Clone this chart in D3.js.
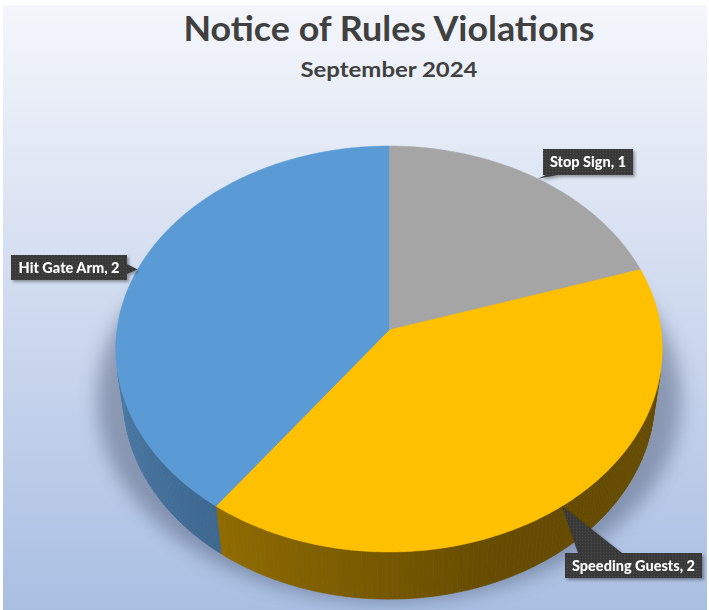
<!DOCTYPE html>
<html>
<head>
<meta charset="utf-8">
<script src="https://cdn.jsdelivr.net/npm/d3@7"></script>
<style>
  html, body { margin: 0; padding: 0; background: #ffffff; }
  svg { display: block; }
</style>
</head>
<body>
<div id="chart"></div>
<script>
// chart data
const categories = ["Stop Sign", "Speeding Guests", "Hit Gate Arm"];
const values = [1, 2, 2];
const title = "Notice of Rules Violations";
const subtitle = "September 2024";

// styles
const topColors = ["#a5a5a5", "#ffc000", "#5b9bd5"];
const sideDark = ["#5a5a5a", "#664c00", "#2d5074"];
const sideLight = ["#8a8a8a", "#b08400", "#4b7aa5"];

// label box layout (Excel data callouts, manually placed)
const labelBoxes = [
    { x: 543, y: 149, w: 90, h: 26, base: [[546, 175], [558, 175]] },
    { x: 565, y: 553, w: 137, h: 25, base: [[578, 553], [622, 553]] },
    { x: 11, y: 255, w: 116, h: 25, base: [[127, 264], [127, 274]] }
];

const width = 709;
const height = 610;

// perspective camera for the 3D pie
const cam = { cx: 389, cy: 330, f: 1956, D: 7.19, tilt: 47.7 * Math.PI / 180, depth: 0.275 };
const sE = Math.sin(cam.tilt), cE = Math.cos(cam.tilt);

function project(theta, r, z) {
    const x = r * Math.sin(theta), y = r * Math.cos(theta);
    const v = y * sE + z * cE;
    const w = cam.D + y * cE - z * sE;
    return [cam.cx + cam.f * x / w, cam.cy - cam.f * v / w];
}

const svg = d3.select("#chart")
    .append("svg")
    .attr("width", width)
    .attr("height", height);

const defs = svg.append("defs");

const bg = defs.append("linearGradient")
    .attr("id", "bg")
    .attr("x1", 0).attr("y1", 0).attr("x2", 0).attr("y2", 1);
bg.append("stop").attr("offset", "0%").attr("stop-color", "#f4f6fb");
bg.append("stop").attr("offset", "45%").attr("stop-color", "#d3ddf0");
bg.append("stop").attr("offset", "100%").attr("stop-color", "#a9bfe2");

defs.append("filter")
    .attr("id", "blur")
    .attr("x", "-20%").attr("y", "-20%").attr("width", "140%").attr("height", "140%")
    .append("feGaussianBlur").attr("stdDeviation", 9);

const ds = defs.append("filter")
    .attr("id", "dropShadow")
    .attr("x", "-20%").attr("y", "-30%").attr("width", "150%").attr("height", "170%");
ds.append("feDropShadow")
    .attr("dx", 2).attr("dy", 2).attr("stdDeviation", 1.5)
    .attr("flood-color", "#000").attr("flood-opacity", 0.35);

const pat = defs.append("pattern")
    .attr("id", "calloutTex")
    .attr("width", 3).attr("height", 3)
    .attr("patternUnits", "userSpaceOnUse");
pat.append("rect").attr("width", 3).attr("height", 3).attr("fill", "#3b3b3b");
pat.append("rect").attr("width", 1).attr("height", 1).attr("fill", "#4a4a4a");
pat.append("rect").attr("x", 1.5).attr("y", 1.5).attr("width", 1).attr("height", 1).attr("fill", "#333");

svg.append("rect")
    .attr("x", 3).attr("y", 5)
    .attr("width", 704).attr("height", 605)
    .attr("fill", "url(#bg)");

// titles
svg.append("text")
    .attr("x", 389).attr("y", 41)
    .attr("text-anchor", "middle")
    .attr("textLength", 411)
    .attr("lengthAdjust", "spacingAndGlyphs")
    .style("font-family", "Lato, 'Open Sans', sans-serif")
    .style("font-weight", "bold")
    .style("font-size", "35px")
    .style("fill", "#404040")
    .text(title);

svg.append("text")
    .attr("x", 389).attr("y", 77)
    .attr("text-anchor", "middle")
    .attr("textLength", 177)
    .attr("lengthAdjust", "spacingAndGlyphs")
    .style("font-family", "Lato, 'Open Sans', sans-serif")
    .style("font-weight", "bold")
    .style("font-size", "21px")
    .style("fill", "#404040")
    .text(subtitle);

const pie = d3.pie().sort(null).value(d => d);
const arcs = pie(values);

const line = d3.line();
const step = Math.PI / 360;

function arcPoints(a0, a1, r, z) {
    const pts = [];
    const n = Math.max(2, Math.ceil((a1 - a0) / step));
    for (let i = 0; i <= n; i++) pts.push(project(a0 + (a1 - a0) * i / n, r, z));
    return pts;
}

// shadow behind / under the pie
const shadowPts = d3.range(0, 361, 2).map(deg => {
    const p = project(deg * Math.PI / 180, 1, 0);
    return [cam.cx + (p[0] - cam.cx) * 1.07, p[1] + 50];
});
svg.append("path")
    .attr("d", line(shadowPts) + "Z")
    .attr("fill", "#3e4a66")
    .attr("opacity", 0.42)
    .attr("filter", "url(#blur)");

// side wall, only the part that faces the camera
const visLo = Math.acos(-1 / (cam.D * cE));
const visHi = 2 * Math.PI - visLo;
const sideG = svg.append("g");
arcs.forEach((d, i) => {
    const a0 = Math.max(d.startAngle, visLo);
    const a1 = Math.min(d.endAngle, visHi);
    if (a1 <= a0) return;
    const n = Math.ceil((a1 - a0) / (Math.PI / 180));
    const col = d3.interpolateRgb(sideDark[i], sideLight[i]);
    for (let k = 0; k < n; k++) {
        const t0 = a0 + (a1 - a0) * k / n;
        const t1 = a0 + (a1 - a0) * (k + 1) / n;
        const tm = (t0 + t1) / 2;
        const tt = Math.max(0, Math.min(1, (tm - 160 * Math.PI / 180) / (98 * Math.PI / 180)));
        const c = col(tt);
        const quad = [project(t0, 1, 0), project(t1, 1, 0), project(t1, 1, -cam.depth), project(t0, 1, -cam.depth)];
        sideG.append("path")
            .attr("d", line(quad) + "Z")
            .attr("fill", c)
            .attr("stroke", c)
            .attr("stroke-width", 0.6);
    }
});

// top faces
svg.append("g")
    .selectAll("path")
    .data(arcs)
    .join("path")
    .attr("d", d => line([project(0, 0, 0)].concat(arcPoints(d.startAngle, d.endAngle, 1, 0))) + "Z")
    .attr("fill", (d, i) => topColors[i])
    .attr("stroke", (d, i) => topColors[i])
    .attr("stroke-width", 0.5);

// data callouts
const callouts = svg.append("g")
    .selectAll("g")
    .data(arcs)
    .join("g")
    .attr("filter", "url(#dropShadow)");

callouts.append("path")
    .attr("d", (d, i) => {
        const tip = project((d.startAngle + d.endAngle) / 2, 1, 0);
        const b = labelBoxes[i].base;
        return line([tip, b[0], b[1]]) + "Z";
    })
    .attr("fill", "url(#calloutTex)");

callouts.append("rect")
    .attr("x", (d, i) => labelBoxes[i].x)
    .attr("y", (d, i) => labelBoxes[i].y)
    .attr("width", (d, i) => labelBoxes[i].w)
    .attr("height", (d, i) => labelBoxes[i].h)
    .attr("fill", "url(#calloutTex)");

callouts.append("text")
    .attr("x", (d, i) => labelBoxes[i].x + labelBoxes[i].w / 2)
    .attr("y", (d, i) => labelBoxes[i].y + labelBoxes[i].h / 2 + 5)
    .attr("text-anchor", "middle")
    .style("font-family", "Lato, 'Open Sans', sans-serif")
    .style("font-weight", "900")
    .style("font-size", "14.5px")
    .style("fill", "#ffffff")
    .text((d, i) => `${categories[i]}, ${values[i]}`);
</script>
</body>
</html>
